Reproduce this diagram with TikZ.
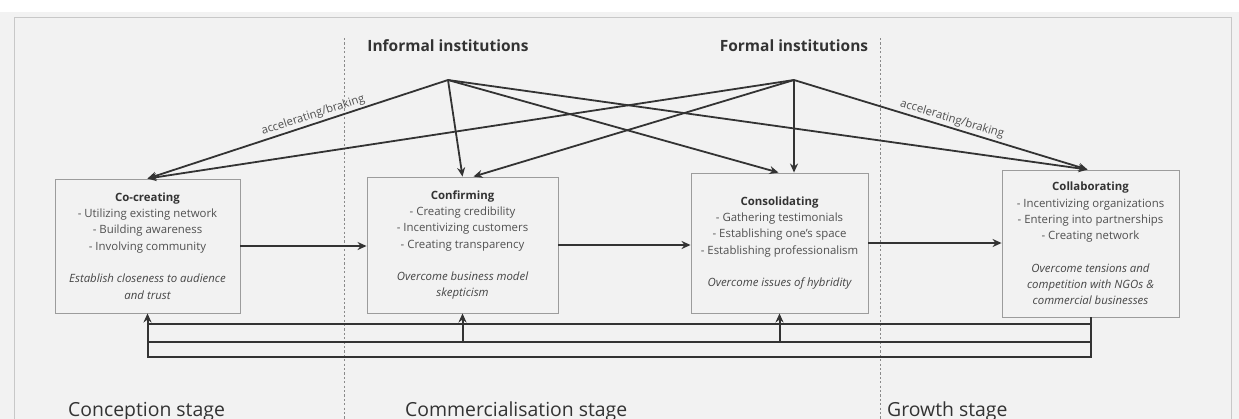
\documentclass[tikz,border=0pt]{standalone}
\usepackage{fontspec}
\setmainfont{Open Sans}
\usetikzlibrary{arrows.meta,calc}
\definecolor{bg}{HTML}{F2F2F2}
\definecolor{framecol}{HTML}{C8C8C8}
\definecolor{boxline}{HTML}{9C9C9C}
\definecolor{ink}{HTML}{333333}
\definecolor{txt}{HTML}{505050}
\definecolor{itxt}{HTML}{454545}
\definecolor{dotcol}{HTML}{8A8A8A}
\begin{document}
\begin{tikzpicture}[x=1pt,y=-1pt,
  stagebox/.style={draw=boxline, line width=0.9pt, fill=bg, inner sep=0pt, align=center,
    text=txt, font=\fontsize{11.4}{16.3}\selectfont},
  arr/.style={draw=ink, line width=1.8pt, -{Stealth[length=9pt,width=8pt]}},
  fbline/.style={draw=ink, line width=2pt},
  fbarr/.style={draw=ink, line width=2pt, -{Stealth[length=9pt,width=8pt]}},
  insttitle/.style={font=\fontsize{15.5}{18}\selectfont\bfseries, text=ink, inner sep=0pt},
  stagelabel/.style={font=\fontsize{19.4}{22}\selectfont, text=ink, inner sep=0pt, anchor=base west},
  ablabel/.style={font=\fontsize{11.4}{13}\selectfont, text=txt, sloped, above, inner sep=2pt},
  stagesep/.style={draw=dotcol, line width=0.8pt, dash pattern=on 2.2pt off 2.2pt}
]
\useasboundingbox (0,0) rectangle (1239,418);
\clip (0,0) rectangle (1239,418);
% background panel
\fill[white] (0,0) rectangle (1239,418);
\fill[bg] (0,12) rectangle (1239,430);
\draw[framecol, line width=1pt] (14,440) -- (14,17) -- (1231,17) -- (1231,440);
% stage separators
\draw[stagesep] (344,38) -- (344,420);
\draw[stagesep] (880,38) -- (880,420);
% institution titles
\node[insttitle] (inftitle) at (448,46) {Informal institutions};
\node[insttitle] (formtitle) at (794,46) {Formal institutions};
\coordinate (inf) at (448,80);
\coordinate (form) at (794,80);
% stage boxes
\node[stagebox, minimum width=185pt, minimum height=134pt] (A) at (147.5,246) {%
{\bfseries\color{ink}Co-creating}\\
- Utilizing existing network\\
- Building awareness\\
- Involving community\\[16.3pt]
{\itshape\color{itxt}Establish closeness to audience}\\
{\itshape\color{itxt}and trust}};
\node[stagebox, minimum width=191pt, minimum height=136pt] (B) at (462.5,245) {%
{\bfseries\color{ink}Confirming}\\
- Creating credibility\\
- Incentivizing customers\\
- Creating transparency\\[16.3pt]
{\itshape\color{itxt}Overcome business model}\\
{\itshape\color{itxt}skepticism}};
\node[stagebox, minimum width=177pt, minimum height=140pt] (C) at (779.5,243) {%
{\bfseries\color{ink}Consolidating}\\
- Gathering testimonials\\
- Establishing one's space\\
- Establishing professionalism\\[16.3pt]
{\itshape\color{itxt}Overcome issues of hybridity}};
\node[stagebox, minimum width=177pt, minimum height=147pt] (D) at (1090.5,243.5) {%
{\bfseries\color{ink}Collaborating}\\
- Incentivizing organizations\\
- Entering into partnerships\\
- Creating network\\[16.3pt]
{\itshape\color{itxt}Overcome tensions and}\\
{\itshape\color{itxt}competition with NGOs \&}\\
{\itshape\color{itxt}commercial businesses}};
% institutional influences
\draw[arr] (inf) -- node[ablabel, pos=0.44] {accelerating/braking} (A.north);
\draw[arr] (form) -- (A.north);
\draw[arr] (inf) -- (B.north);
\draw[arr] (form) -- ($(B.north)+(11,0)$);
\draw[arr] (inf) -- ($(C.north)+(-1,0)$);
\draw[arr] (form) -- (C.north -| form);
\draw[arr] (inf) -- ($(D.north)+(-3,0)$);
\draw[arr] (form) -- node[ablabel, pos=0.53] {accelerating/braking} ($(D.north)+(-3,0)$);
% stage progression
\draw[arr] (A.east) -- (A.east -| B.west);
\draw[arr] (B.east) -- (B.east -| C.west);
\draw[arr] (C.east) -- (C.east -| D.west);
% feedback
\coordinate (y1) at (0,324);
\coordinate (y2) at (0,342);
\coordinate (y3) at (0,357);
\draw[fbline] (D.south |- y1) -- (A.south |- y1);
\draw[fbline] (D.south |- y2) -- (A.south |- y2);
\draw[fbarr] (D.south) -- (D.south |- y3) -- (A.south |- y3) -- (A.south);
\draw[fbarr] (B.south |- y2) -- (B.south);
\draw[fbarr] (C.south |- y2) -- (C.south);
% stage labels
\node[stagelabel] (s1) at (68,416) {Conception stage};
\node[stagelabel] (s2) at (405,416) {Commercialisation stage};
\node[stagelabel] (s3) at (887,416) {Growth stage};
\end{tikzpicture}
\end{document}
